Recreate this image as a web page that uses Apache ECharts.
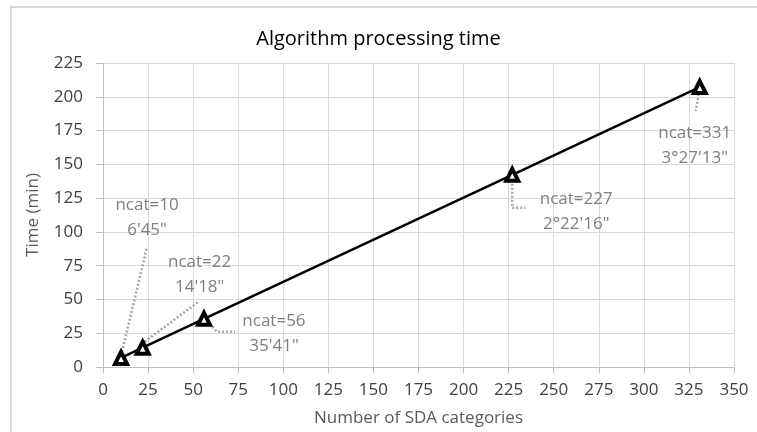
<!DOCTYPE html>
<html>
<head>
<meta charset="utf-8">
<script src="https://cdn.jsdelivr.net/npm/echarts@6/dist/echarts.min.js"></script>
<style>html,body{margin:0;padding:0;background:#fff;}#c{width:757px;height:432px;}</style>
</head>
<body>
<div id="c"></div>
<script>
const ncat = [10, 22, 56, 227, 331];
const timeMin = [6.75, 14.30, 35.68, 142.27, 207.22];
const labelLine1 = ["ncat=10", "ncat=22", "ncat=56", "ncat=227", "ncat=331"];
const labelLine2 = ["6'45\"", "14'18\"", "35'41\"", "2°22'16\"", "3°27'13\""];
const xTicks = [0, 25, 50, 75, 100, 125, 150, 175, 200, 225, 250, 275, 300, 325, 350];
const yTicks = [0, 25, 50, 75, 100, 125, 150, 175, 200, 225];

// styling: label offsets and leader-line shapes, in pixels relative to each point
const labelOffsets = [[26, -140], [57, -73], [70, 15], [64, 37], [-5, 59]];
const leaderShapes = [
  [[1, -6], [26, -111]],
  [[2, -6], [56, -46]],
  [[3, 2], [13, 13], [31, 13]],
  [[0, 5], [0, 33], [13, 33]],
  [[-1, 7], [-4, 24]]
];
const FONT = "'Open Sans', sans-serif";

const chart = echarts.init(document.getElementById('c'), null, {renderer: 'canvas'});
const pts = ncat.map((x, i) => [x, timeMin[i]]);
const lineData = pts.map((v, i) => ({
  value: v,
  label: {
    show: true,
    position: 'inside',
    offset: labelOffsets[i],
    formatter: labelLine1[i] + '\n' + labelLine2[i]
  }
}));

chart.setOption({
  animation: false,
  backgroundColor: '#fff',
  title: {
    text: 'Algorithm processing time',
    left: 'center',
    top: 24,
    textStyle: {fontFamily: FONT, fontSize: 20, fontWeight: 'normal', color: '#000'}
  },
  graphic: [{
    type: 'rect',
    shape: {x: 11, y: 7, width: 800, height: 500},
    style: {fill: 'none', stroke: '#d9d9d9', lineWidth: 2},
    silent: true
  }],
  grid: {left: 103, right: 23, top: 63, bottom: 64, containLabel: false},
  xAxis: {
    type: 'value',
    min: xTicks[0], max: xTicks[xTicks.length - 1], interval: 25,
    name: 'Number of SDA categories',
    nameLocation: 'middle', nameGap: 43,
    nameTextStyle: {fontFamily: FONT, fontSize: 17, color: '#595959'},
    axisLine: {show: true, lineStyle: {color: '#bfbfbf', width: 1}},
    axisTick: {show: true, length: 6, lineStyle: {color: '#bfbfbf'}},
    axisLabel: {fontFamily: FONT, fontSize: 17, color: '#404040', margin: 15},
    splitLine: {show: true, lineStyle: {color: '#d9d9d9', width: 1}}
  },
  yAxis: {
    type: 'value',
    min: yTicks[0], max: yTicks[yTicks.length - 1], interval: 25,
    name: 'Time (min)',
    nameLocation: 'middle', nameGap: 61,
    nameTextStyle: {fontFamily: FONT, fontSize: 17, color: '#595959'},
    axisLine: {show: true, lineStyle: {color: '#bfbfbf', width: 1}},
    axisTick: {show: true, length: 7, lineStyle: {color: '#bfbfbf'}},
    axisLabel: {fontFamily: FONT, fontSize: 17, color: '#404040', margin: 20},
    splitLine: {show: true, lineStyle: {color: '#d9d9d9', width: 1}}
  },
  series: [{
    type: 'custom',
    data: pts,
    z: 1,
    silent: true,
    renderItem: function (params, api) {
      const p = api.coord([api.value(0), api.value(1)]);
      const shape = leaderShapes[params.dataIndex];
      return {
        type: 'polyline',
        shape: {points: shape.map(d => [p[0] + d[0], p[1] + d[1]])},
        style: {fill: null, stroke: '#a6a6a6', lineWidth: 2.5, lineDash: [2, 2]}
      };
    }
  }, {
    type: 'line',
    z: 3,
    data: lineData,
    symbol: 'triangle',
    symbolSize: 12,
    showAllSymbol: true,
    itemStyle: {color: '#fff', borderColor: '#000', borderWidth: 4},
    lineStyle: {color: '#000', width: 2.5},
    label: {
      fontFamily: FONT, fontSize: 17, color: '#7f7f7f', lineHeight: 25, align: 'center'
    }
  }]
});
</script>
</body>
</html>
